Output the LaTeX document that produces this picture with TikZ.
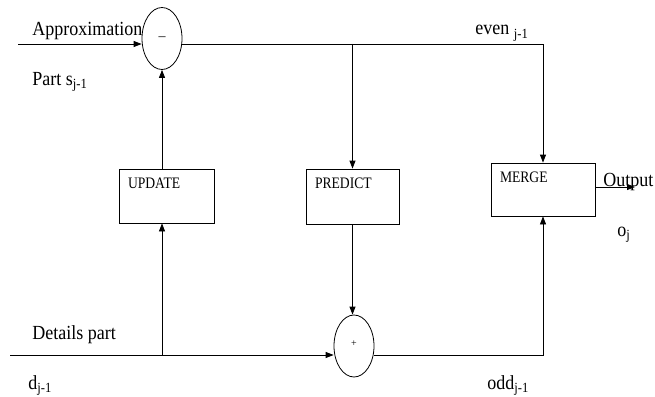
\documentclass[tikz,border=0pt]{standalone}
\usepackage{fontspec}
\setmainfont{Liberation Serif}
\newfontfamily\narrowserif[FakeStretch=0.9]{Liberation Serif}
\newfontfamily\boxserif[FakeStretch=0.85]{Liberation Serif}
\usetikzlibrary{shapes.geometric,arrows.meta}
\begin{document}
\begin{tikzpicture}[x=1pt,y=-1pt,
			line width=0.8pt,
			>={Triangle[length=8pt,width=6pt]},
			sumnode/.style={ellipse,draw,minimum width=40pt,minimum height=62pt,inner sep=0pt},
			blockbox/.style={rectangle,draw,minimum width=95pt,minimum height=54pt},
			boxtext/.style={anchor=north west,inner sep=9pt,font=\boxserif\fontsize{16}{18}\selectfont},
			lbl/.style={anchor=base west,inner sep=0pt,font=\narrowserif\fontsize{20}{22}\selectfont},]
\useasboundingbox (0,0) rectangle (655,396);
% adders
\node[sumnode] (minus) at (162,38.5) {\fontsize{14}{16}\selectfont\raisebox{-5pt}{--}};
\node[sumnode] (plus) at (354,346) {\fontsize{10}{12}\selectfont\raisebox{4pt}{+}\hspace{3pt}};
% blocks
\node[blockbox,label={[boxtext]north west:UPDATE}] (update) at (166.5,196) {};
\node[blockbox,minimum width=93pt,minimum height=55pt,
	label={[boxtext]north west:PREDICT}] (predict) at (352.5,196.5) {};
\node[blockbox,minimum width=104pt,minimum height=53pt,
	label={[boxtext]north west:MERGE}] (merge) at (543,189.5) {};
% free ends and corners
\coordinate (ain) at (18,44);
\coordinate (din) at (10,355);
\coordinate (evenc) at (543,44);
\coordinate (oddc) at (543,355);
\coordinate (out) at (635,187);
% connectors
\draw[->] (ain) -- (ain -| minus.west);
\draw[->] (minus.east |- ain) -- (evenc) -- (merge.north);
\draw[->] (predict.north |- ain) -- (predict.north);
\draw[->] (update.north -| minus.south) -- (minus.south);
\draw[->] (din) -- (din -| plus.west);
\draw[->] (din -| minus.south) -- (update.south -| minus.south);
\draw[->] (predict.south) -- (predict.south |- plus.north);
\draw[->] (plus.east |- din) -- (oddc) -- (merge.south);
\draw[->] (merge.east |- out) -- (out);
% labels
\node[lbl] (approx) at (32,36) {Approximation};
\node[lbl] (spart) at (32,85) {Part s\textsubscript{j-1}};
\node[lbl] (even) at (475,35) {even \textsubscript{j-1}};
\node[lbl] (output) at (603,186) {Output};
\node[lbl] (oj) at (617,236) {o\textsubscript{j}};
\node[lbl] (details) at (32,339) {Details part};
\node[lbl] (dj) at (28,389) {d\textsubscript{j-1}};
\node[lbl] (odd) at (487,389) {odd\textsubscript{j-1}};
\end{tikzpicture}
\end{document}
